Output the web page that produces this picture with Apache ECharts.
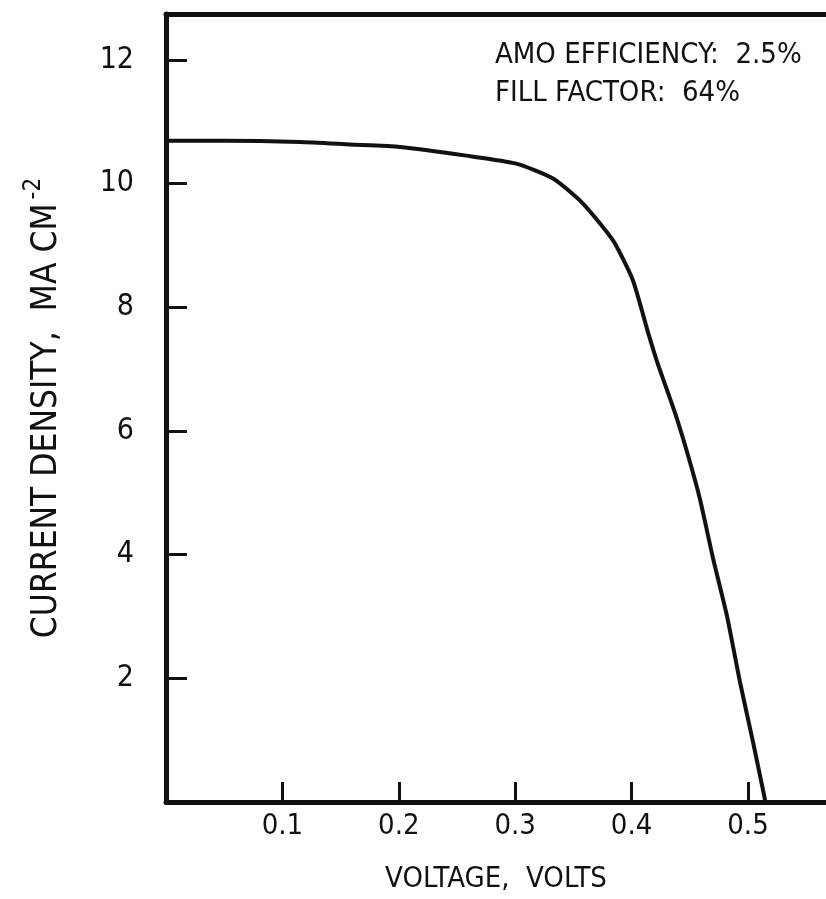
<!DOCTYPE html>
<html>
<head>
<meta charset="utf-8">
<script src="https://cdn.jsdelivr.net/npm/echarts@6/dist/echarts.min.js"></script>
<style>
html,body{margin:0;padding:0;background:#ffffff;}
#chart{width:826px;height:899px;}
</style>
</head>
<body>
<div id="chart"></div>
<script>
// Data
var voltage = [0, 0.05, 0.115, 0.158, 0.201, 0.258, 0.301, 0.3325, 0.358, 0.384, 0.401, 0.4143, 0.4222, 0.4373, 0.4496, 0.4588, 0.4702, 0.482, 0.4931, 0.5043, 0.515];
var current = [10.69, 10.69, 10.67, 10.63, 10.59, 10.45, 10.32, 10.08, 9.68, 9.08, 8.44, 7.58, 7.10, 6.29, 5.53, 4.89, 3.92, 3.00, 1.94, 0.97, 0];
var xTickValues = [0.1, 0.2, 0.3, 0.4, 0.5];
var yTickValues = [2, 4, 6, 8, 10, 12];
var noteLines = ['AMO EFFICIENCY:  2.5%', 'FILL FACTOR:  64%'];
var xTitle = 'VOLTAGE,  VOLTS';
var yTitle = 'CURRENT DENSITY,  MA CM';

var points = voltage.map(function (v, i) { return [v, current[i]]; });
var tickFont = '"Liberation Sans Narrow", "DejaVu Sans Condensed", sans-serif';
var textFont = '"DejaVu Sans Condensed", "Liberation Sans Narrow", sans-serif';

var chart = echarts.init(document.getElementById('chart'), null, {renderer: 'canvas'});
chart.setOption({
  backgroundColor: '#ffffff',
  animation: false,
  grid: {left: 166, right: 0, top: 14, bottom: 96, containLabel: false},
  xAxis: [{
    type: 'value', min: 0, max: 0.567, interval: 0.1, position: 'bottom',
    name: xTitle, nameLocation: 'middle', nameGap: 63,
    nameTextStyle: {color: '#111', fontSize: 29, fontFamily: textFont},
    axisLine: {show: true, onZero: false, lineStyle: {color: '#111', width: 5}},
    axisTick: {show: true, inside: true, length: 20, customValues: xTickValues, lineStyle: {color: '#111', width: 3}},
    axisLabel: {show: true, margin: 10, color: '#111', fontSize: 29, fontFamily: tickFont, customValues: xTickValues,
      formatter: function (v) { return v.toFixed(1); }},
    splitLine: {show: false}
  }, {
    type: 'value', min: 0, max: 0.567, position: 'top',
    axisLine: {show: true, onZero: false, lineStyle: {color: '#111', width: 5}},
    axisTick: {show: false}, axisLabel: {show: false}, splitLine: {show: false}
  }],
  yAxis: [{
    type: 'value', min: 0, max: 12.74, interval: 2, position: 'left',
    name: yTitle + '{sup|-2}', nameLocation: 'middle', nameGap: 94, nameRotate: 90,
    nameTextStyle: {color: '#111', fontSize: 35, fontFamily: textFont,
      rich: {sup: {fontSize: 24, fontFamily: textFont, color: '#111', padding: [0, 0, 26, 4]}}},
    axisLine: {show: true, onZero: false, lineStyle: {color: '#111', width: 5}},
    axisTick: {show: true, inside: true, length: 21, customValues: yTickValues, lineStyle: {color: '#111', width: 3}},
    axisLabel: {show: true, margin: 32, color: '#111', fontSize: 30, fontFamily: tickFont, customValues: yTickValues},
    splitLine: {show: false}
  }],
  graphic: [
    {type: 'text', left: 495, top: 41, style: {text: noteLines[0], fill: '#111', fontSize: 29, fontFamily: textFont}},
    {type: 'text', left: 495, top: 79, style: {text: noteLines[1], fill: '#111', fontSize: 29, fontFamily: textFont}}
  ],
  series: [{
    type: 'line', data: points, smooth: 0.2, showSymbol: false, symbol: 'none',
    xAxisIndex: 0, yAxisIndex: 0,
    lineStyle: {color: '#111', width: 4}
  }]
});
</script>
</body>
</html>
